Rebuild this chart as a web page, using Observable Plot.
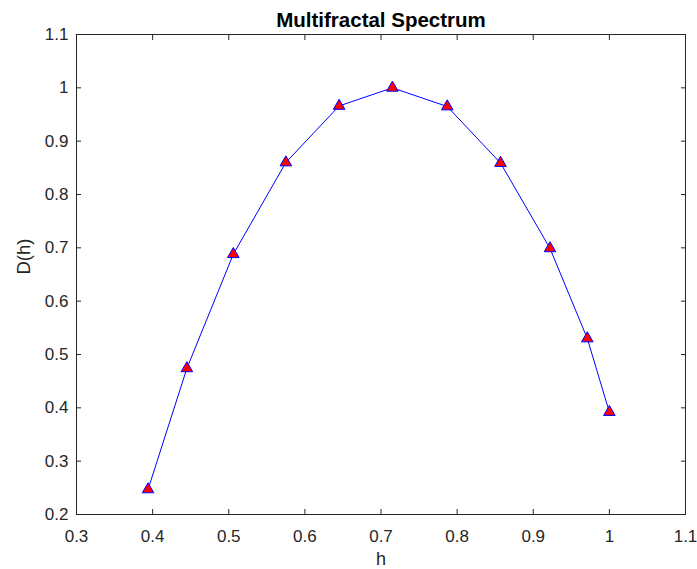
<!DOCTYPE html>
<html><head><meta charset="utf-8">
<script src="https://cdn.jsdelivr.net/npm/d3@7"></script>
<script src="https://cdn.jsdelivr.net/npm/@observablehq/plot@0.6"></script>
<style>body{margin:0;background:#fff} svg{display:block}</style>
</head><body><div id="chart"></div>
<script>
const hValues = [0.394, 0.445, 0.506, 0.575, 0.645, 0.715, 0.787, 0.857, 0.922, 0.971, 1.000];
const dValues = [0.247, 0.474, 0.688, 0.860, 0.966, 1.000, 0.965, 0.859, 0.699, 0.530, 0.392];
const xTicks = [0.3, 0.4, 0.5, 0.6, 0.7, 0.8, 0.9, 1.0, 1.1];
const yTicks = [0.2, 0.3, 0.4, 0.5, 0.6, 0.7, 0.8, 0.9, 1.0, 1.1];
const title = "Multifractal Spectrum";
const xLabel = "h";
const yLabel = "D(h)";

const data = hValues.map((v, i) => ({h: v, D: dValues[i]}));
const ink = "#262626";
const fmt = d3.format("~g");

const chart = Plot.plot({
  width: 697, height: 569,
  marginLeft: 76, marginRight: 12, marginTop: 34, marginBottom: 55,
  style: {fontFamily: "'Liberation Sans', Arial, sans-serif", fontSize: "17px", color: ink, background: "#fff"},
  x: {domain: [0.3, 1.1]},
  y: {domain: [0.2, 1.1]},
  marks: [
    Plot.axisX(xTicks, {anchor: "bottom", tickSize: -5, tickPadding: 20, tickFormat: fmt, label: null, stroke: ink, fill: ink, fontSize: 17}),
    Plot.axisX(xTicks, {anchor: "top", tickSize: -5, tickFormat: () => "", label: null, stroke: ink}),
    Plot.axisY(yTicks, {anchor: "left", tickSize: -5, tickPadding: 13, tickFormat: fmt, label: null, stroke: ink, fill: ink, fontSize: 17}),
    Plot.axisY(yTicks, {anchor: "right", tickSize: -5, tickFormat: () => "", label: null, stroke: ink}),
    Plot.frame({stroke: ink, strokeWidth: 1}),
    Plot.line(data, {x: "h", y: "D", stroke: "#0000ff", strokeWidth: 1}),
    Plot.dot(data, {x: "h", y: "D", symbol: "triangle", r: 4.3, fill: "#ff0000", stroke: "#0000ff", strokeWidth: 1}),
    Plot.text([title], {text: d => d, frameAnchor: "top", lineAnchor: "middle", dy: -14.4, fontWeight: "bold", fontSize: 20.5, fill: "#000"}),
    Plot.text([xLabel], {text: d => d, frameAnchor: "bottom", lineAnchor: "middle", dy: 45, fontSize: 18, fill: ink}),
    Plot.text([yLabel], {text: d => d, frameAnchor: "left", lineAnchor: "middle", dx: -52, rotate: -90, fontSize: 18.5, fill: ink})
  ]
});
document.getElementById("chart").appendChild(chart);
</script>
</body></html>
